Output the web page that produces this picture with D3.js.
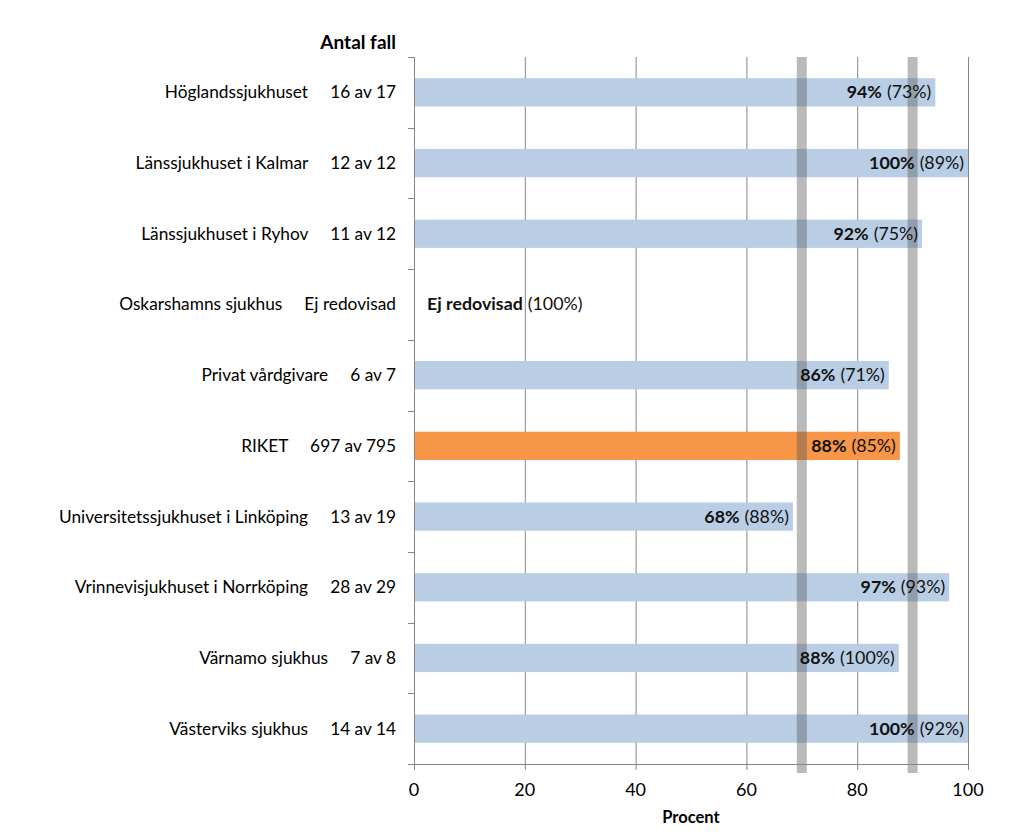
<!DOCTYPE html>
<html><head><meta charset="utf-8">
<script src="https://cdn.jsdelivr.net/npm/d3@7"></script>
<style>body{margin:0;background:#fff}svg{display:block}text{font-family:Lato,"Open Sans",sans-serif}</style>
</head><body>
<script>
const categories = ["Höglandssjukhuset","Länssjukhuset i Kalmar","Länssjukhuset i Ryhov","Oskarshamns sjukhus","Privat vårdgivare","RIKET","Universitetssjukhuset i Linköping","Vrinnevisjukhuset i Norrköping","Värnamo sjukhus","Västerviks sjukhus"];
const counts = ["16 av 17","12 av 12","11 av 12","Ej redovisad","6 av 7","697 av 795","13 av 19","28 av 29","7 av 8","14 av 14"];
const values = [94.1,100,91.7,null,85.7,87.7,68.4,96.6,87.5,100];
const valueLabels = ["94%","100%","92%","Ej redovisad","86%","88%","68%","97%","88%","100%"];
const prevLabels = ["(73%)","(89%)","(75%)","(100%)","(71%)","(85%)","(88%)","(93%)","(100%)","(92%)"];
const highlight = "RIKET";
const xTicks = [0,20,40,60,80,100];
const targetLines = [70,90];

const W=1024,H=837;
const svg=d3.select("body").append("svg").attr("width",W).attr("height",H);
const x=d3.scaleLinear().domain([0,100]).range([414,968]);
const y=d3.scaleBand().domain(categories).range([57,764]).paddingInner(0.6).paddingOuter(0.3);
const step=y.step();

// gridlines
svg.append("g").selectAll("line").data(xTicks.filter(d=>d>0)).join("line")
 .attr("x1",d=>x(d)+0.5).attr("x2",d=>x(d)+0.5).attr("y1",57).attr("y2",764)
 .attr("stroke","#868686").attr("stroke-width",1);

// bars
svg.append("g").selectAll("rect").data(categories.map((c,i)=>({c,v:values[i]})).filter(d=>d.v!=null)).join("rect")
 .attr("x",x(0)+1).attr("y",d=>y(d.c)).attr("width",d=>x(d.v)-x(0)-1).attr("height",y.bandwidth())
 .attr("fill",d=>d.c===highlight?"#f79646":"#b9cde5");

// target bands
svg.append("g").selectAll("rect").data(targetLines).join("rect")
 .attr("x",d=>x(d)-5).attr("width",10).attr("y",57).attr("height",773-57)
 .attr("fill","#5a5a5a").attr("opacity",0.42);

// axes
const ax=svg.append("g");
ax.append("line").attr("x1",414.5).attr("x2",414.5).attr("y1",57).attr("y2",764).attr("stroke","#868686");
ax.append("line").attr("x1",408).attr("x2",968).attr("y1",764.5).attr("y2",764.5).attr("stroke","#868686");
ax.selectAll(".lt").data(d3.range(11)).join("line").attr("class","lt")
 .attr("x1",408).attr("x2",414).attr("y1",i=>Math.round(57+i*step)+0.5).attr("y2",i=>Math.round(57+i*step)+0.5).attr("stroke","#868686");
ax.selectAll(".bt").data(xTicks).join("line").attr("class","bt")
 .attr("x1",d=>x(d)+0.5).attr("x2",d=>x(d)+0.5).attr("y1",764).attr("y2",770).attr("stroke","#868686");
ax.selectAll(".tl").data(xTicks).join("text").attr("class","tl")
 .attr("x",d=>x(d)).attr("y",796).attr("text-anchor","middle").attr("font-size",18).attr("fill","#000").text(d=>d);

svg.append("text").attr("x",x(50)).attr("y",823).attr("text-anchor","middle").attr("font-size",16.5).attr("font-weight","bold").text("Procent");
svg.append("text").attr("x",396).attr("y",49).attr("text-anchor","end").attr("font-size",19).attr("font-weight","bold").text("Antal fall");

// category labels
svg.append("g").selectAll("text").data(categories).join("text")
 .attr("x",396).attr("y",d=>y(d)+y.bandwidth()/2+6).attr("text-anchor","end").attr("font-size",17.3).attr("fill","#000")
 .attr("xml:space","preserve").style("white-space","pre")
 .text((d,i)=>d+"     "+counts[i]);

// value labels
const vl=svg.append("g").selectAll("text").data(categories).join("text")
 .attr("x",(d,i)=>values[i]==null?x(0)+13:x(values[i])-4)
 .attr("y",d=>y(d)+y.bandwidth()/2+6)
 .attr("text-anchor",(d,i)=>values[i]==null?"start":"end").attr("font-size",17.8).attr("fill","#111");
vl.append("tspan").attr("font-weight","bold").text((d,i)=>valueLabels[i]);
vl.append("tspan").attr("dx",5).text((d,i)=>prevLabels[i]);
</script>
</body></html>
